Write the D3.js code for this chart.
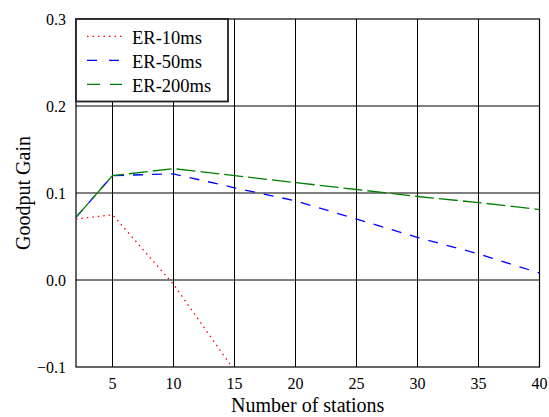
<!DOCTYPE html>
<html>
<head>
<meta charset="utf-8">
<script src="https://cdn.jsdelivr.net/npm/d3@7"></script>
<style>
  body { margin: 0; background: #fff; }
  svg { font-family: "Liberation Serif", "Times New Roman", serif; }
</style>
</head>
<body>
<svg class="chart"></svg>
<script>
// values
var stations = [2, 5, 10, 15, 20, 25, 30, 35, 40];
var stations10 = [2, 5, 10, 15];
var er10 = [0.070, 0.075, -0.005, -0.104];
var er50 = [0.072, 0.120, 0.122, 0.106, 0.091, 0.070, 0.049, 0.030, 0.008];
var er200 = [0.072, 0.120, 0.128, 0.120, 0.112, 0.104, 0.096, 0.089, 0.081];
var xTicks = [5, 10, 15, 20, 25, 30, 35, 40];
var yTicks = [-0.1, 0.0, 0.1, 0.2, 0.3];
var seriesNames = ['ER-10ms', 'ER-50ms', 'ER-200ms'];

var W = 549, H = 417;
var plotL = 75.9, plotR = 539.5, plotT = 19, plotB = 367;

var chart = d3.select('.chart')
	.attr('width', W)
	.attr('height', H);

var x = d3.scaleLinear().domain([2, 40]).range([plotL, plotR]),
	y = d3.scaleLinear().domain([-0.1, 0.3]).range([plotB, plotT]);

chart.append('defs').append('clipPath')
	.attr('id', 'plot')
  .append('rect')
	.attr('x', plotL).attr('y', plotT)
	.attr('width', plotR - plotL).attr('height', plotB - plotT);

// gridlines
chart.append('g')
	.selectAll('line')
	.data(xTicks)
  .enter().append('line')
	.attr('x1', function(d) { return x(d); })
	.attr('x2', function(d) { return x(d); })
	.attr('y1', plotT).attr('y2', plotB)
	.attr('stroke', '#000').attr('stroke-width', 1);

chart.append('g')
	.selectAll('line')
	.data(yTicks.slice(1, 4))
  .enter().append('line')
	.attr('x1', plotL).attr('x2', plotR)
	.attr('y1', function(d) { return y(d); })
	.attr('y2', function(d) { return y(d); })
	.attr('stroke', '#000').attr('stroke-width', 1);

// frame
chart.append('rect')
	.attr('x', 76).attr('y', 19)
	.attr('width', plotR - 76).attr('height', plotB - 19)
	.attr('fill', 'none').attr('stroke', '#000').attr('stroke-width', 1.2);

// tick labels
chart.append('g')
	.selectAll('text')
	.data(xTicks)
  .enter().append('text')
	.attr('x', function(d) { return x(d); })
	.attr('y', 389)
	.attr('text-anchor', 'middle')
	.style('font-size', '16px')
	.text(function(d) { return d; });

chart.append('g')
	.selectAll('text')
	.data(yTicks)
  .enter().append('text')
	.attr('x', 66)
	.attr('y', function(d) { return y(d); })
	.attr('dy', '0.35em')
	.attr('text-anchor', 'end')
	.style('font-size', '16px')
	.text(function(d) { return d3.format('.1f')(d); });

// axis titles
chart.append('text')
	.attr('x', (76 + plotR) / 2)
	.attr('y', 411.5)
	.attr('text-anchor', 'middle')
	.style('font-size', '20px')
	.text('Number of stations');

chart.append('text')
	.attr('transform', 'translate(29.5,' + ((plotT + plotB) / 2) + ') rotate(-90)')
	.attr('text-anchor', 'middle')
	.style('font-size', '20px')
	.text('Goodput Gain');

// lines
var line = d3.line()
	.x(function(d) { return x(d[0]); })
	.y(function(d) { return y(d[1]); });

var series = [
	{ xs: stations10, ys: er10, color: '#ff0000', dash: '1.5,4', legendDash: '1.5,4' },
	{ xs: stations, ys: er50, color: '#0000ff', dash: '10,9', legendDash: '10,12' },
	{ xs: stations, ys: er200, color: '#008000', dash: '19,5', legendDash: '13,10' }
];

var lines = chart.append('g').attr('clip-path', 'url(#plot)');
series.forEach(function(s) {
	lines.append('path')
		.datum(s.xs.map(function(v, i) { return [v, s.ys[i]]; }))
		.attr('d', line)
		.attr('fill', 'none')
		.attr('stroke', s.color)
		.attr('stroke-width', 1.3)
		.attr('stroke-dasharray', s.dash);
});

// legend
var legend = chart.append('g');
legend.append('rect')
	.attr('x', 76).attr('y', 19)
	.attr('width', 152).attr('height', 82.5)
	.attr('fill', '#fff').attr('stroke', '#222').attr('stroke-width', 1.8);

series.forEach(function(s, i) {
	var by = 44.3 + i * 24;
	legend.append('line')
		.attr('x1', 87).attr('x2', 122)
		.attr('y1', by - 8).attr('y2', by - 8)
		.attr('stroke', s.color)
		.attr('stroke-width', 1.3)
		.attr('stroke-dasharray', s.legendDash);
	legend.append('text')
		.attr('x', 132).attr('y', by)
		.style('font-size', '18.5px')
		.text(seriesNames[i]);
});
</script>
</body>
</html>
